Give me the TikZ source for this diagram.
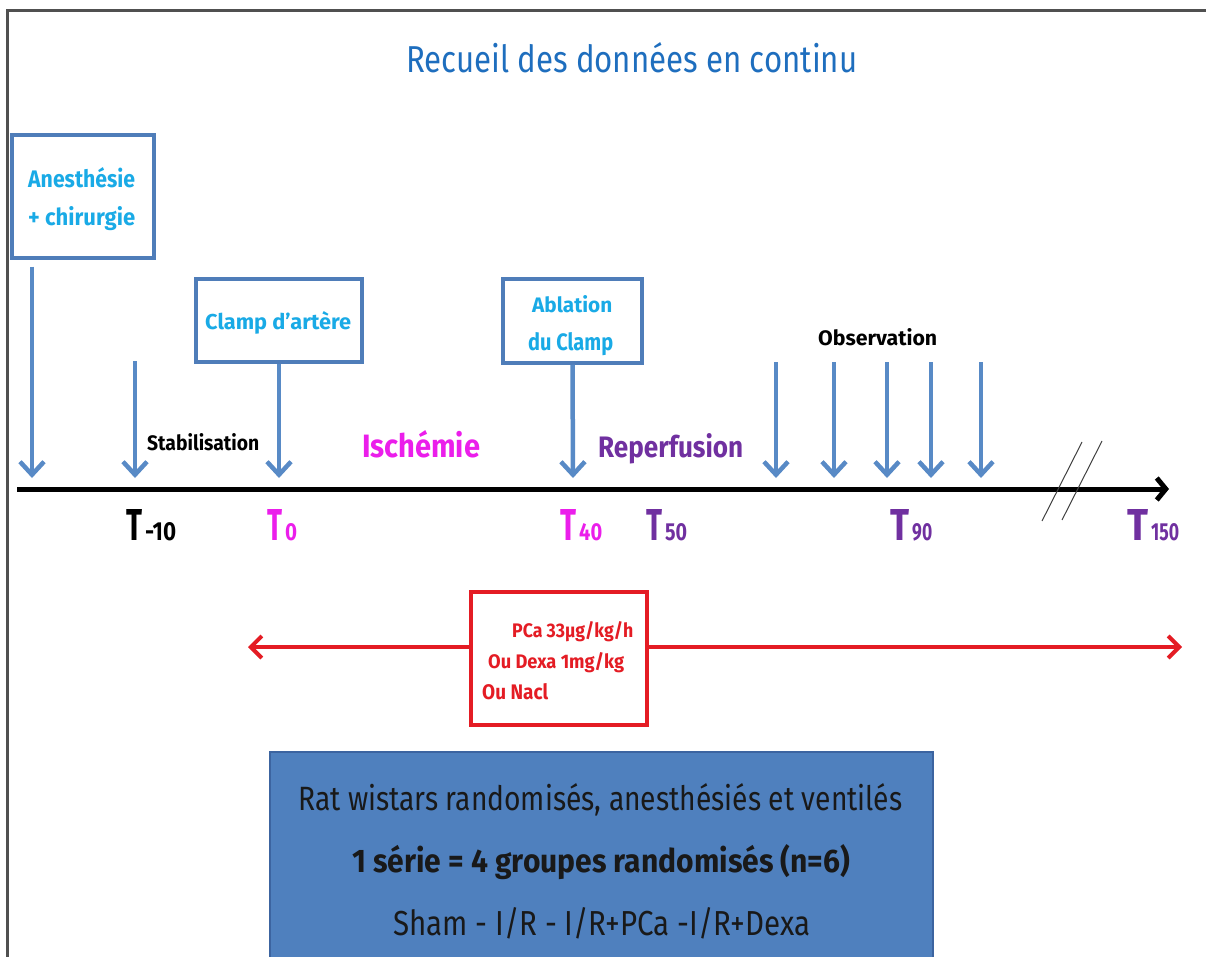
\documentclass[tikz,border=0pt]{standalone}
\usepackage{fontspec}
\setmainfont{Fira Sans}
\usetikzlibrary{arrows.meta}
\definecolor{framegray}{RGB}{80,80,80}
\definecolor{boxblue}{RGB}{79,125,185}
\definecolor{arrblue}{RGB}{88,138,198}
\definecolor{titleblue}{RGB}{30,110,190}
\definecolor{cyantext}{RGB}{25,170,230}
\definecolor{magentat}{RGB}{235,30,235}
\definecolor{purplet}{RGB}{112,48,160}
\definecolor{redc}{RGB}{228,28,36}
\definecolor{fillblue}{RGB}{79,128,190}
\definecolor{fillborder}{RGB}{60,100,160}
\newcommand{\fitt}[3]{\resizebox{#1pt}{#2pt}{#3}}
\begin{document}
\begin{tikzpicture}[x=1pt,y=-1pt,
  txt/.style={inner sep=0pt, anchor=base west},
  bluebox/.style={draw=boxblue, line width=3.5pt, fill=white, inner sep=0pt},
  barrow/.style={draw=arrblue, line width=4.5pt, -{Straight Barb[length=13pt,width=24pt]}},
  tline/.style={draw=black, line width=5pt, -{Straight Barb[length=9pt,width=22pt]}},
  rarrow/.style={draw=redc, line width=4pt},
  breakmark/.style={draw=black!75, line width=1pt}]
\useasboundingbox (0,0) rectangle (1206,957);
% frame
\coordinate (fr1) at (7,957);
\coordinate (fr2) at (7,11);
\coordinate (fr3) at (1206,11);
\draw[framegray, line width=3pt] (fr1) -- (fr2) -- (fr3);
% title
\node[txt] (title) at (406,73) {\fitt{451}{30}{\color{titleblue}Recueil des données en continu}};
% boxes
\node[bluebox, minimum width=142pt, minimum height=123pt] (anes) at (83,196.5) {};
\node[bluebox, minimum width=166pt, minimum height=83pt] (clamp) at (279,320.5) {};
\node[bluebox, minimum width=139pt, minimum height=84pt] (abl) at (572.5,321) {};
\node[txt] (anes1) at (28,188) {\fitt{107}{20}{\color{cyantext}\bfseries Anesthésie}};
\node[txt] (anes2) at (28,226) {\fitt{107}{19}{\color{cyantext}\bfseries + chirurgie}};
\node[txt] (clampt) at (205,330) {\fitt{146}{18}{\color{cyantext}\bfseries Clamp d'artère}};
\node[txt] (abl1) at (532,312) {\fitt{80}{17}{\color{cyantext}\bfseries Ablation}};
\node[txt] (abl2) at (528,350) {\fitt{85}{18}{\color{cyantext}\bfseries du Clamp}};
% timeline coordinates
\coordinate (tA) at (32,478);
\coordinate (tS) at (135,478);
\coordinate (sS) at (135,361);
\coordinate (t0) at (279,478);
\coordinate (t40) at (573,478);
\foreach \i/\x in {1/776,2/834,3/887,4/931,5/981}{
  \coordinate (os\i) at (\x,362);
  \coordinate (oe\i) at (\x,478);
}
\coordinate (tl0) at (17,489);
\coordinate (tl1) at (1169,489);
% blue arrows
\draw[barrow, shorten <=7pt] (anes.south west -| tA) -- (tA);
\draw[barrow] (sS) -- (tS);
\draw[barrow] (clamp.south) -- (t0);
\draw[barrow] (abl.south) -- (t40);
\foreach \i in {1,...,5}{\draw[barrow] (os\i) -- (oe\i);}
% timeline
\draw[tline] (tl0) -- (tl1);
\coordinate (b1a) at (1042,521); \coordinate (b1b) at (1082,442);
\coordinate (b2a) at (1062,520); \coordinate (b2b) at (1102,441);
\draw[breakmark] (b1a) -- (b1b);
\draw[breakmark] (b2a) -- (b2b);
% phase labels
\node[txt] (stab) at (147,450) {\fitt{112}{17}{\bfseries Stabilisation}};
\node[txt] (isch) at (362,457) {\fitt{118}{27}{\color{magentat}\bfseries Ischémie}};
\node[txt] (reperf) at (598,457) {\fitt{145}{24}{\color{purplet}\bfseries Reperfusion}};
\node[txt] (obs) at (818,345) {\fitt{119}{17}{\bfseries Observation}};
% time labels
\node[txt] (Tm10) at (126,540) {\fitt{16}{31}{\bfseries T}\hspace{3pt}\fitt{31}{18}{\bfseries -10}};
\node[txt] (T0) at (267,540) {\fitt{15}{31}{\color{magentat}\bfseries T}\hspace{3pt}\fitt{12}{17}{\color{magentat}\bfseries 0}};
\node[txt] (T40) at (560,540) {\fitt{16}{31}{\color{magentat}\bfseries T}\hspace{3pt}\fitt{23}{17}{\color{magentat}\bfseries 40}};
\node[txt] (T50) at (646,540) {\fitt{16}{31}{\color{purplet}\bfseries T}\hspace{3pt}\fitt{22}{17}{\color{purplet}\bfseries 50}};
\node[txt] (T90) at (890,540) {\fitt{19}{31}{\color{purplet}\bfseries T}\hspace{3pt}\fitt{20}{17}{\color{purplet}\bfseries 90}};
\node[txt] (T150) at (1127,540) {\fitt{21}{31}{\color{purplet}\bfseries T}\hspace{3pt}\fitt{28}{17}{\color{purplet}\bfseries 150}};
% red treatment
\coordinate (rl) at (248,647);
\coordinate (rr) at (1182,647);
\node[draw=redc, line width=3.5pt, fill=white, inner sep=0pt, minimum width=176pt, minimum height=133pt] (dose) at (559,658.5) {};
\draw[rarrow, -{Straight Barb[length=11pt,width=22pt]}] (dose.west |- rl) -- (rl);
\draw[rarrow, -{Straight Barb[length=11pt,width=22pt]}] (dose.east |- rr) -- (rr);
\node[txt] (d1) at (512,637) {\fitt{121}{16}{\color{redc}\bfseries PCa 33µg/kg/h}};
\node[txt] (d2) at (488,668) {\fitt{136}{16}{\color{redc}\bfseries Ou Dexa 1mg/kg}};
\node[txt] (d3) at (482,699) {\fitt{66}{16}{\color{redc}\bfseries Ou Nacl}};
% rats box
\node[draw=fillborder, line width=1.5pt, fill=fillblue, inner sep=0pt, minimum width=663pt, minimum height=213pt] (rats) at (601.5,858.5) {};
\node[txt] (r1) at (298,810) {\fitt{604}{27}{\color{black!90}Rat wistars randomisés, anesthésiés et ventilés}};
\node[txt] (r2) at (352,872) {\fitt{498}{28}{\color{black!90}\bfseries 1 série = 4 groupes randomisés (n=6)}};
\node[txt] (r3) at (393,935) {\fitt{417}{28}{\color{black!90}Sham - I/R - I/R+PCa -I/R+Dexa}};
\end{tikzpicture}
\end{document}
